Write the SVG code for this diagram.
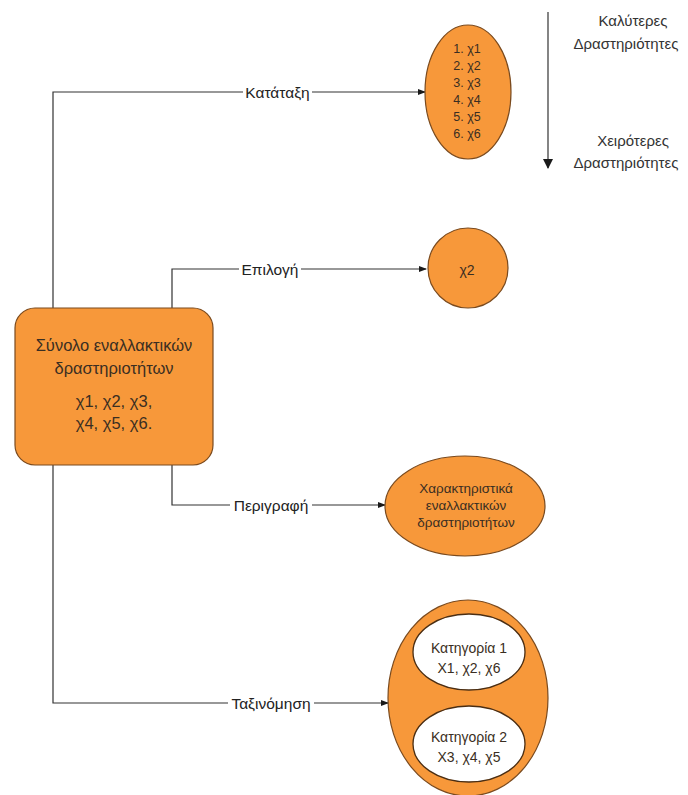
<svg xmlns="http://www.w3.org/2000/svg" width="688" height="795" viewBox="0 0 688 795">
<defs>
<marker id="ah" markerWidth="8" markerHeight="8" refX="7" refY="4" orient="auto" markerUnits="userSpaceOnUse">
<path d="M0,1 L8,4 L0,7 Z" fill="#1a1a1a"/>
</marker>
<marker id="ah2" markerWidth="10" markerHeight="10" refX="9" refY="5" orient="auto" markerUnits="userSpaceOnUse">
<path d="M0,0 L10,5 L0,10 Z" fill="#1a1a1a"/>
</marker>
<style>
.shape{fill:#f7983a;stroke:#7a4a1e;stroke-width:1.2}
.inner{fill:#ffffff;stroke:#4a2e14;stroke-width:1.3}
.t{font-family:"Liberation Sans",Arial,sans-serif;fill:#3a2e22;text-anchor:middle;dominant-baseline:central}
.lbl{font-family:"Liberation Sans",Arial,sans-serif;fill:#222;text-anchor:middle;dominant-baseline:central;font-size:15.5px}
.conn{fill:none;stroke:#333;stroke-width:1.2}
.side{font-family:"Liberation Sans",Arial,sans-serif;fill:#333;text-anchor:middle;dominant-baseline:central;font-size:15px}
</style>
</defs>
<rect width="688" height="795" fill="#ffffff"/>

<g id="connectors">
<path class="conn" d="M53,308 V92 H425" marker-end="url(#ah)"/>
<path class="conn" d="M172,308 V269 H426" marker-end="url(#ah)"/>
<path class="conn" d="M172,465 V505 H385" marker-end="url(#ah)"/>
<path class="conn" d="M53,465 V703 H388" marker-end="url(#ah)"/>
<path class="conn" d="M548,12 V168" marker-end="url(#ah2)"/>
</g>

<g id="labels">
<rect x="243" y="83" width="69" height="18" fill="#fff"/>
<text class="lbl" x="277.5" y="92">Κατάταξη</text>
<rect x="239" y="260" width="62" height="18" fill="#fff"/>
<text class="lbl" x="270" y="269">Επιλογή</text>
<rect x="230" y="496" width="82" height="18" fill="#fff"/>
<text class="lbl" x="271" y="505">Περιγραφή</text>
<rect x="228" y="694" width="86" height="18" fill="#fff"/>
<text class="lbl" x="271" y="703">Ταξινόμηση</text>
</g>

<g id="main">
<rect class="shape" x="15" y="308" width="198" height="157" rx="20" ry="20"/>
<text class="t" x="114" y="345" font-size="16.5">Σύνολο εναλλακτικών</text>
<text class="t" x="114" y="368" font-size="16.5">δραστηριοτήτων</text>
<text class="t" x="114" y="401" font-size="16.5">χ1, χ2, χ3,</text>
<text class="t" x="114" y="423" font-size="16.5">χ4, χ5, χ6.</text>
</g>

<g id="ranking">
<ellipse class="shape" cx="468" cy="92" rx="43" ry="67"/>
<text class="t" x="467" y="49" font-size="12.5">1. χ1</text>
<text class="t" x="467" y="66" font-size="12.5">2. χ2</text>
<text class="t" x="467" y="83" font-size="12.5">3. χ3</text>
<text class="t" x="467" y="100" font-size="12.5">4. χ4</text>
<text class="t" x="467" y="117" font-size="12.5">5. χ5</text>
<text class="t" x="467" y="134" font-size="12.5">6. χ6</text>
</g>

<g id="selection">
<circle class="shape" cx="468" cy="268" r="40"/>
<text class="t" x="467" y="270" font-size="14">χ2</text>
</g>

<g id="description">
<ellipse class="shape" cx="465" cy="506" rx="80" ry="50"/>
<text class="t" x="466" y="488" font-size="13.5">Χαρακτηριστικά</text>
<text class="t" x="466" y="505" font-size="13.5">εναλλακτικών</text>
<text class="t" x="466" y="522" font-size="13.5">δραστηριοτήτων</text>
</g>

<g id="classification">
<ellipse class="shape" cx="468" cy="698" rx="80" ry="98"/>
<ellipse class="inner" cx="469" cy="652" rx="56" ry="38"/>
<text class="t" x="469" y="648" font-size="14">Κατηγορία 1</text>
<text class="t" x="469" y="668" font-size="14">Χ1, χ2, χ6</text>
<ellipse class="inner" cx="469" cy="744" rx="56" ry="38"/>
<text class="t" x="469" y="737" font-size="14">Κατηγορία 2</text>
<text class="t" x="469" y="757" font-size="14">Χ3, χ4, χ5</text>
</g>

<g id="scale">
<text class="side" x="633" y="20">Καλύτερες</text>
<text class="side" x="626" y="43">Δραστηριότητες</text>
<text class="side" x="633" y="140">Χειρότερες</text>
<text class="side" x="626" y="162">Δραστηριότητες</text>
</g>
</svg>
